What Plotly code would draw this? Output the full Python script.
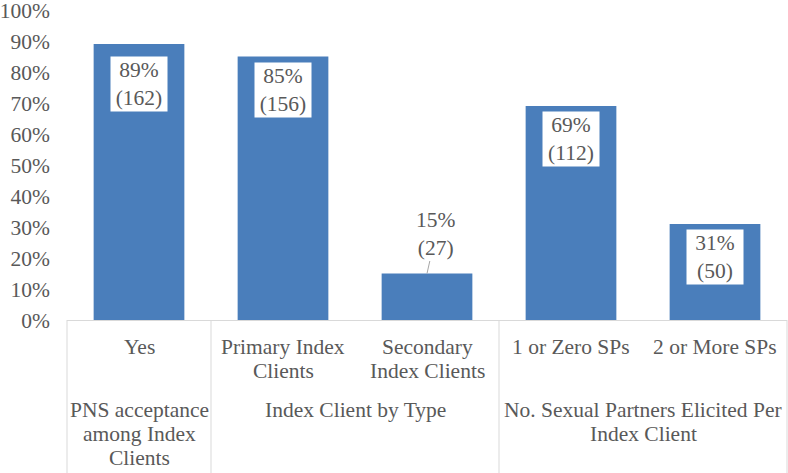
import plotly.graph_objects as go

categories = ["Yes", "Primary Index<br>Clients", "Secondary<br>Index Clients", "1 or Zero SPs", "2 or More SPs"]
percent = [89, 85, 15, 69, 31]
counts = [162, 156, 27, 112, 50]
groups = ["PNS acceptance<br>among Index<br>Clients", "Index Client by Type", "No. Sexual Partners Elicited Per<br>Index Client"]
group_sizes = [1, 2, 2]

FONT = "Liberation Serif, Times New Roman, serif"
TXT = "#595959"
BAR = "#4a7ebb"
LINE = "#d9d9d9"
FS = 21.5

fig = go.Figure()
fig.add_trace(go.Bar(x=categories, y=[p / 100 for p in percent], marker=dict(color=BAR, line=dict(width=0)),
                     hoverinfo="skip"))

ann = []
# bar labels
for i, (c, p, n) in enumerate(zip(categories, percent, counts)):
    text = f"{p}%<br>({n})"
    if p < 20:
        ann.append(dict(x=c, y=p / 100, xref="x", yref="y", text=text, showarrow=True,
                        arrowhead=0, arrowwidth=1, arrowcolor="#a6a6a6", ax=9, ay=-40,
                        font=dict(family=FONT, size=FS, color=TXT)))
    else:
        ann.append(dict(x=c, y=p / 100, xref="x", yref="y", text=text, showarrow=False,
                        yanchor="top", yshift=-12 if i == 0 else -5, bgcolor="white",
                        width=56, height=54, borderpad=0,
                        font=dict(family=FONT, size=FS, color=TXT)))

LS = 24
def add_lines(x, text, first):
    for k, line in enumerate(text.split("<br>")):
        ann.append(dict(x=x, y=0, xref="x", yref="paper", text=line, showarrow=False,
                        yanchor="middle", yshift=-(first + LS * k),
                        font=dict(family=FONT, size=FS, color=TXT)))

for c in categories:
    add_lines(c, c, 27)

n = len(categories)
start = 0
shapes = []
bounds = [0]
for g, s in zip(groups, group_sizes):
    mid = start + (s - 1) / 2
    add_lines(mid, g, 90)
    start += s
    bounds.append(start)

for b in bounds:
    xp = b / n
    shapes.append(dict(type="line", xref="paper", yref="paper", x0=xp, x1=xp, y0=0, y1=-0.6,
                       line=dict(color=LINE, width=1)))

fig.update_layout(
    width=788, height=473,
    margin=dict(l=67, r=1, t=10, b=153, autoexpand=False),
    paper_bgcolor="white", plot_bgcolor="white",
    bargap=0.37, showlegend=False,
    annotations=ann, shapes=shapes,
    font=dict(family=FONT, size=FS, color=TXT),
    xaxis=dict(type="category", showticklabels=False, ticks="", showline=True, linecolor=LINE,
               linewidth=1, showgrid=False, zeroline=False, range=[-0.5, n - 0.5], automargin=False),
    yaxis=dict(range=[0, 1], dtick=0.1, tickformat=".0%", showgrid=False, zeroline=False,
               showline=False, ticks="", ticklabelstandoff=16, automargin=False,
               ticklabeloverflow="allow",
               tickfont=dict(family=FONT, size=FS, color=TXT)),
)
fig.write_html("out.html", config={"displayModeBar": False},
               post_script="document.body.style.margin='0';document.body.style.padding='0';")
